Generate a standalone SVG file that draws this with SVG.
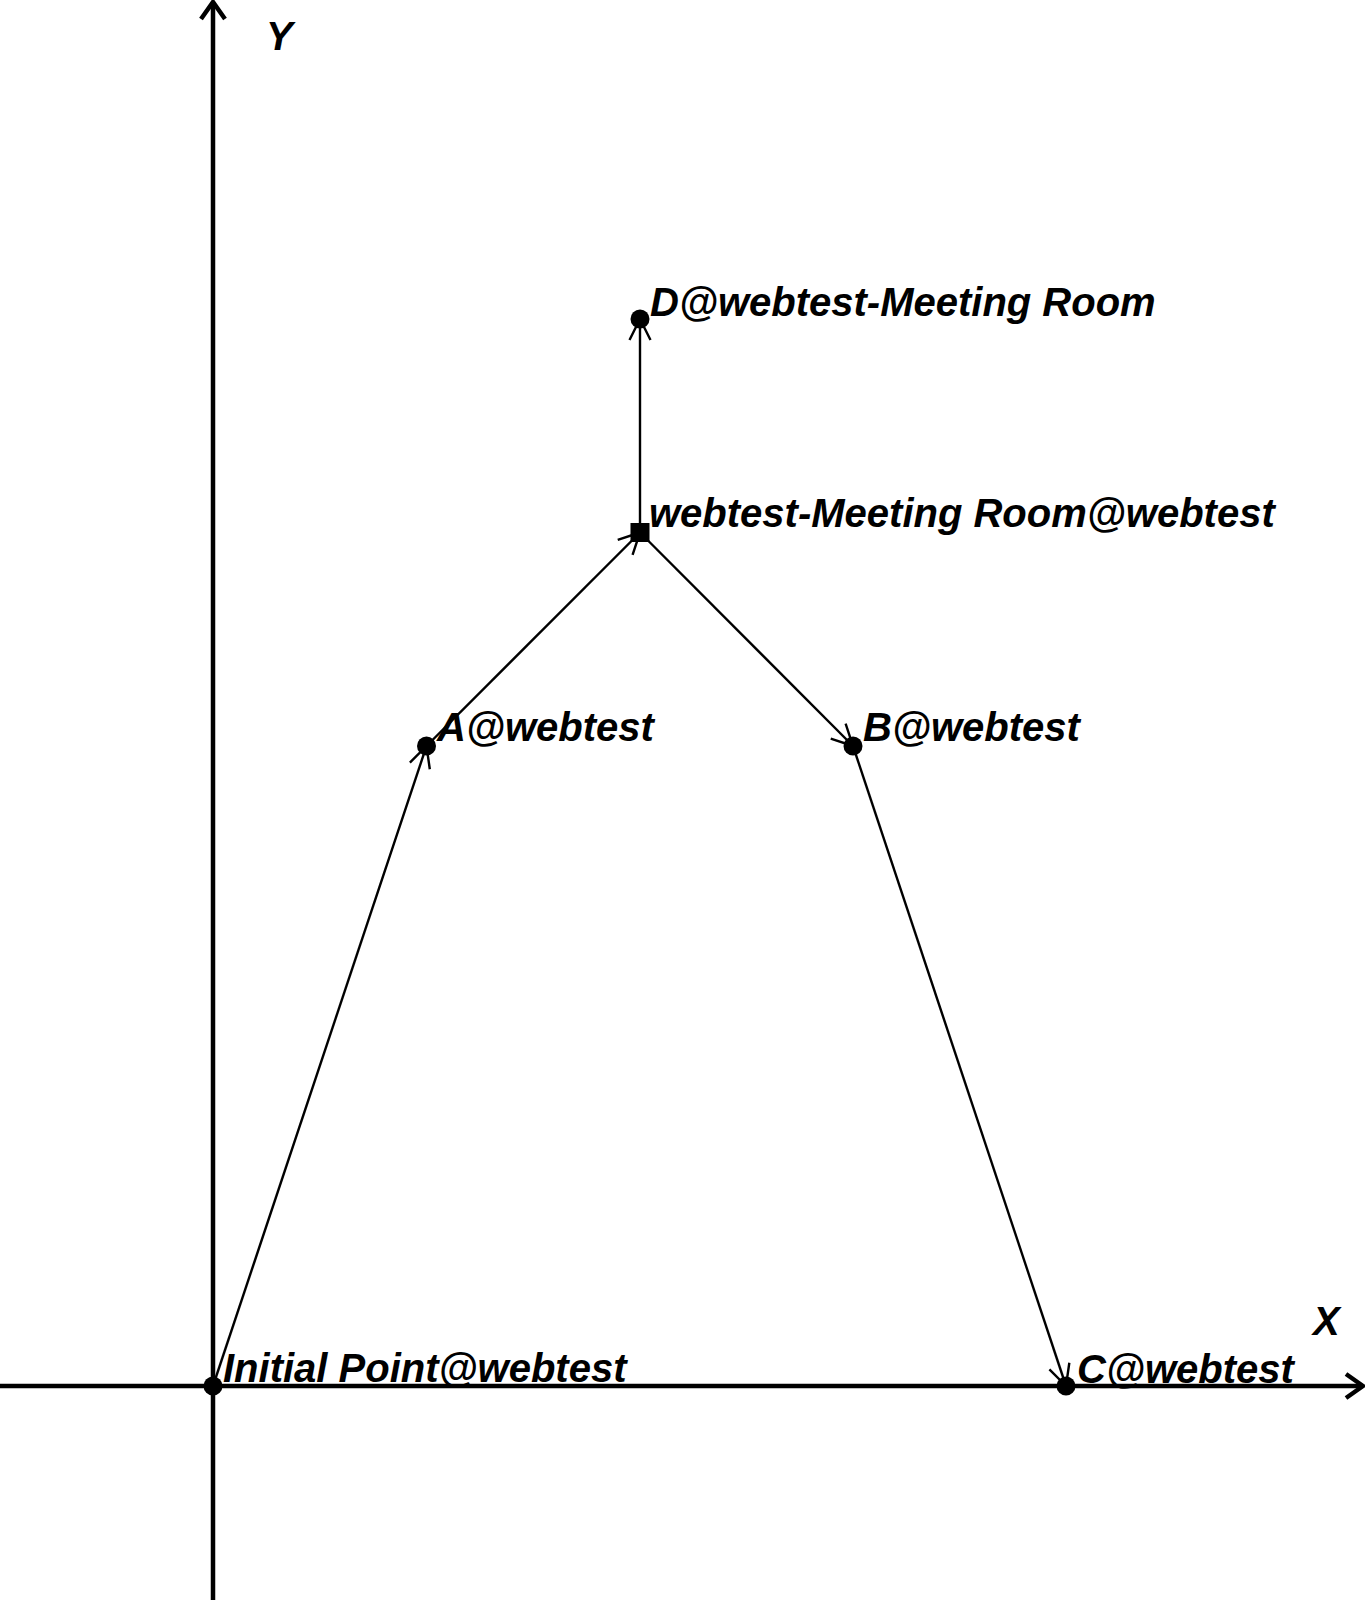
<svg xmlns="http://www.w3.org/2000/svg" width="1365" height="1600" viewBox="0 0 1365 1600">
<style>
.axis{stroke:#000;stroke-width:4.5;fill:none}
.conn{stroke:#000;stroke-width:2.4;fill:none}
.lbl{font-family:"Liberation Sans",Arial,sans-serif;font-weight:bold;font-style:italic;font-size:40px;fill:#000}
</style>
<defs>
<marker id="ah" markerUnits="userSpaceOnUse" viewBox="-25 -15 30 30" markerWidth="30" markerHeight="30" refX="0" refY="0" orient="auto">
<path d="M-21,-10.5 L0,0 L-21,10.5" fill="none" stroke="#000" stroke-width="2.4"/>
</marker>
</defs>
<rect width="1365" height="1600" fill="#fff"/>
<g id="axes">
<line class="axis" x1="213" y1="1600" x2="213" y2="2"/>
<path class="axis" d="M201,19 L213,2 L225,19"/>
<line class="axis" x1="0" y1="1386" x2="1363" y2="1386"/>
<path class="axis" d="M1346,1374 L1363,1386 L1346,1398"/>
<text class="lbl" x="266" y="50">Y</text>
<text class="lbl" x="1313" y="1335">X</text>
</g>
<g id="connectors">
<line class="conn" x1="213" y1="1386" x2="426.5" y2="746" marker-end="url(#ah)"/>
<line class="conn" x1="426.5" y1="746" x2="640" y2="532.5" marker-end="url(#ah)"/>
<line class="conn" x1="640" y1="532.5" x2="853" y2="746" marker-end="url(#ah)"/>
<line class="conn" x1="853" y1="746" x2="1066" y2="1386" marker-end="url(#ah)"/>
<line class="conn" x1="640" y1="532.5" x2="640" y2="319" marker-end="url(#ah)"/>
</g>
<g id="initial">
<circle cx="213" cy="1386" r="9.5"/>
<text class="lbl" x="223" y="1382">Initial Point@webtest</text>
</g>
<g id="a">
<circle cx="426.5" cy="746" r="9.5"/>
<text class="lbl" x="437" y="741">A@webtest</text>
</g>
<g id="b">
<circle cx="853" cy="746" r="9.5"/>
<text class="lbl" x="863" y="741">B@webtest</text>
</g>
<g id="c">
<circle cx="1066" cy="1386" r="9.5"/>
<text class="lbl" x="1077" y="1383">C@webtest</text>
</g>
<g id="room">
<rect x="630.5" y="523" width="19" height="19"/>
<text class="lbl" x="649" y="527">webtest-Meeting Room@webtest</text>
</g>
<g id="d">
<circle cx="640" cy="319" r="9.5"/>
<text class="lbl" x="650" y="316">D@webtest-Meeting Room</text>
</g>
</svg>
